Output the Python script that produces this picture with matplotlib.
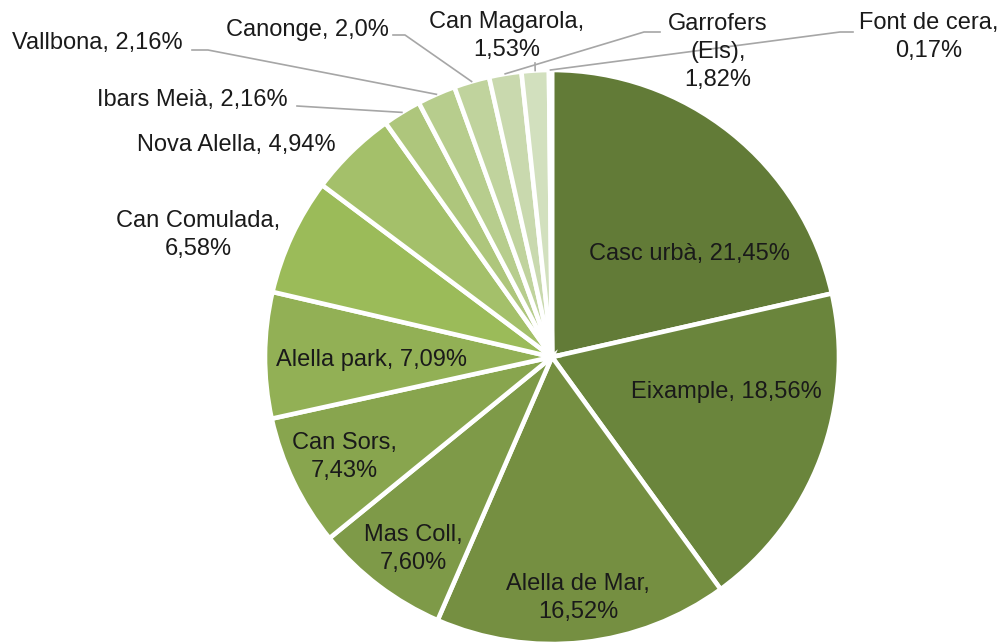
import numpy as np
import matplotlib.pyplot as plt

plt.rcParams['font.family'] = ['Liberation Sans', 'DejaVu Sans']

# Dades: percentatge d'habitatges per barri
barris = ['Casc urbà', 'Eixample', 'Alella de Mar', 'Mas Coll', 'Can Sors',
          'Alella park', 'Can Comulada', 'Nova Alella', 'Ibars Meià',
          'Vallbona', 'Canonge', 'Garrofers (Els)', 'Can Magarola',
          'Font de cera']
percentatges = [21.45, 18.56, 16.52, 7.60, 7.43, 7.09, 6.58, 4.94, 2.16,
                2.16, 2.0, 1.82, 1.53, 0.17]
etiquetes = ['Casc urbà, 21,45%', 'Eixample, 18,56%', 'Alella de Mar,\n16,52%',
             'Mas Coll,\n7,60%', 'Can Sors,\n7,43%', 'Alella park, 7,09%',
             'Can Comulada,\n6,58%', 'Nova Alella, 4,94%', 'Ibars Meià, 2,16%',
             'Vallbona, 2,16%', 'Canonge, 2,0%', 'Garrofers\n(Els),\n1,82%',
             'Can Magarola,\n1,53%', 'Font de cera,\n0,17%']

colors = ['#627b37', '#6a853c', '#758f41', '#7e9a48', '#88a54e', '#92b055',
          '#9bbb59', '#a4c06a', '#aec67c', '#b7cd8d', '#c0d39d', '#c9d9ae',
          '#d2e0be', '#dbe6cf']

# Geometria en píxels de la imatge
W, H = 1003, 643
CX, CY, R = 552, 357, 287


def px(x, y):
    """Converteix coordenades de píxel a coordenades de dades (radi = 1)."""
    return (x - CX) / R, (CY - y) / R


# posició del centre de cada etiqueta (píxels)
pos_etiquetes = [(689, 254), (726, 392), (578, 598), (413, 549), (344, 457),
                 (372, 360), (198, 235), (236, 145), (192, 100), (97, 43),
                 (307, 30), (718, 52), (507, 36), (929, 37)]

# línies guia: punts del costat de l'etiqueta (píxels)
guies = {
    8: [(297, 106)],
    9: [(192, 50), (208, 50)],
    10: [(393, 35), (405, 35)],
    11: [(660, 32), (644, 32)],
    12: [(535, 63)],
    13: [(853, 32), (840, 32)],
}

fig = plt.figure(figsize=(W / 100, H / 100), dpi=100)
ax = fig.add_axes([0, 0, 1, 1])

ax.pie(percentatges, colors=colors, startangle=90, counterclock=False,
       radius=1, center=(0, 0),
       wedgeprops=dict(edgecolor='white', linewidth=3.3))

# angle mig de cada sector
total = sum(percentatges)
acum = np.cumsum(percentatges) - np.array(percentatges) / 2
angles = np.deg2rad(90 - acum / total * 360)

for i, punts in guies.items():
    xs = [px(*p)[0] for p in punts] + [np.cos(angles[i])]
    ys = [px(*p)[1] for p in punts] + [np.sin(angles[i])]
    ax.plot(xs, ys, color='#a6a6a6', lw=1.2, zorder=3)

for text, (x, y) in zip(etiquetes, pos_etiquetes):
    tx, ty = px(x, y)
    ax.text(tx, ty, text, ha='center', va='center', fontsize=17,
            color='#1a1a1a', linespacing=1.35, zorder=4)

ax.set_xlim(-CX / R, (W - CX) / R)
ax.set_ylim(-(H - CY) / R, CY / R)
ax.set_aspect('equal')
ax.set_axis_off()

fig.savefig('out.png', dpi=100, facecolor='white')
